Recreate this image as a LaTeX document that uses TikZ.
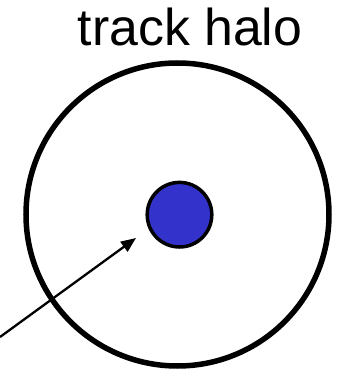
\documentclass[tikz,border=0pt]{standalone}
\usepackage{fontspec}
\setmainfont{Liberation Sans}
\usetikzlibrary{positioning, arrows.meta}
\definecolor{coreblue}{RGB}{51,51,204}
\tikzset{
  HALO/.style={draw=black,circle,line width=5.5bp,minimum size=303bp,inner sep=0pt},
  CORE/.style={draw=black,fill=coreblue,circle,line width=3.5bp,minimum size=64.6bp,inner sep=0pt},
  TL/.style={font=\fontsize{52}{60}\selectfont,inner sep=0pt,anchor=base},
  PT/.style={-{Triangle[length=15bp,width=12bp]},line width=2.3bp,black},
}
\begin{document}
\begin{tikzpicture}[x=1bp,y=1bp]
\useasboundingbox (0,0) rectangle (337,373);

% halo and track
\node[HALO](halo) at (177.5,158.5){};
\node[CORE](track) at (179.5,158.3){};
\node[TL](title) at (190,328){track halo};

% pointer
\coordinate (src) at (0,36);
\coordinate (tip) at (136,135);
\draw[PT](src)--(tip);

\end{tikzpicture}
\end{document}
